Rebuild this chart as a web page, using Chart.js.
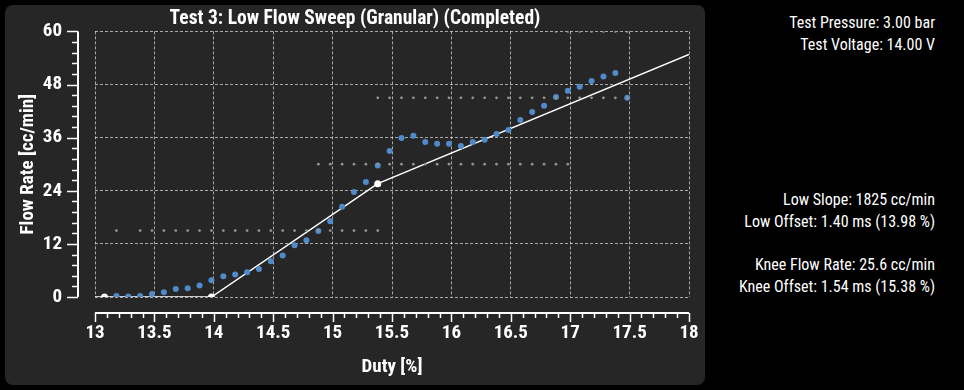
<!DOCTYPE html>
<html>
<head>
<meta charset="utf-8">
<script src="https://cdn.jsdelivr.net/npm/chart.js@4.4.1/dist/chart.umd.min.js"></script>
<style>
html,body{margin:0;padding:0;background:#000;width:964px;height:390px;overflow:hidden;}
#panel{position:absolute;left:5px;top:5px;width:700px;height:380px;background:#262626;border-radius:8px;overflow:hidden;}
#panel canvas{display:block;}
.info{position:absolute;right:29px;color:#fff;font-family:'Roboto Condensed','Liberation Sans Narrow','Arial Narrow','DejaVu Sans Condensed',Roboto,sans-serif;font-size:16px;line-height:22px;text-align:right;white-space:nowrap;}
</style>
</head>
<body>
<div id="panel"><canvas id="c" width="700" height="380"></canvas></div>
<div class="info" style="top:12px">Test Pressure: 3.00 bar<br>Test Voltage: 14.00 V</div>
<div class="info" style="top:189px">Low Slope: 1825 cc/min<br>Low Offset: 1.40 ms (13.98 %)</div>
<div class="info" style="top:254px">Knee Flow Rate: 25.6 cc/min<br>Knee Offset: 1.54 ms (15.38 %)</div>
<script>
// ---- data ----
const dutyPct = [13.18,13.28,13.38,13.48,13.58,13.68,13.78,13.88,13.98,14.08,14.18,14.28,14.38,14.48,14.58,14.68,14.78,14.88,14.98,15.08,15.18,15.28,15.38,15.48,15.58,15.68,15.78,15.88,15.98,16.08,16.18,16.28,16.38,16.48,16.58,16.68,16.78,16.88,16.98,17.08,17.18,17.28,17.38,17.48];
const flowRate = [0.2,0.1,0.2,0.7,1.1,1.8,2.0,2.6,3.8,4.7,5.1,5.6,6.3,8.1,9.4,11.7,12.8,14.9,17.1,20.4,23.7,26.0,29.7,33.0,35.9,36.4,35.0,34.6,34.6,34.1,35.0,35.5,36.8,37.7,40.0,41.8,43.2,45.2,46.6,47.5,48.8,49.8,50.6,45.0];

const band15Duty = [13.18,13.38,13.48,13.58,13.68,13.78,13.88,13.98,14.08,14.18,14.28,14.38,14.48,14.58,14.68,14.78,14.88,14.98,15.08,15.18,15.28,15.38];
const band30Duty = [14.88,14.98,15.08,15.18,15.28,15.38,15.48,15.58,15.68,15.78,15.88,15.98,16.08,16.18,16.28,16.38,16.48,16.58,16.68,16.78,16.88,16.98];
const band45Duty = [15.38,15.48,15.58,15.68,15.78,15.88,15.98,16.08,16.18,16.28,16.38,16.48,16.58,16.68,16.78,16.88,16.98,17.08,17.18,17.28,17.38,17.48];
const band60Duty = [16.88,16.98,17.08,17.18,17.28,17.38,17.48];
const bandLevels = [15, 30, 45, 60];

const fitDuty = [13.0, 13.98, 15.38, 18.0];
const fitFlow = [0, 0, 25.6, 54.8];
const markerDuty = [13.08, 13.98, 15.38];
const markerFlow = [0, 0, 25.6];

const xTicks = [13,13.5,14,14.5,15,15.5,16,16.5,17,17.5,18];
const yTicks = [0,12,24,36,48,60];

const titleText = 'Test 3: Low Flow Sweep (Granular) (Completed)';
const xTitle = 'Duty [%]';
const yTitle = 'Flow Rate [cc/min]';

// ---- chart ----
const FONT = "'Roboto Condensed','Liberation Sans Narrow','Arial Narrow','DejaVu Sans Condensed',Roboto,sans-serif";
const pts = (xs, ys) => xs.map((x, i) => ({x, y: ys[i]}));
const row = (xs, level) => xs.map(x => ({x, y: level}));

const bandStyle = {type:'scatter', pointRadius:1.4, pointHoverRadius:1.4, pointBackgroundColor:'#939393', pointBorderWidth:0, showLine:false};

const axesPlugin = {
  id: 'detachedAxes',
  afterDraw(chart) {
    const {ctx, chartArea} = chart;
    const xs = chart.scales.x, ys = chart.scales.y;
    ctx.save();
    ctx.strokeStyle = '#ffffff';
    // y axis
    const ax = chartArea.left - 17;
    ctx.lineWidth = 2;
    ctx.beginPath();
    ctx.moveTo(ax, ys.getPixelForValue(60));
    ctx.lineTo(ax, ys.getPixelForValue(0));
    ctx.stroke();
    ctx.lineWidth = 1.5;
    for (let k = 0; k <= 25; k++) {
      const v = k * 2.4;
      const py = Math.round(ys.getPixelForValue(v)) + 0.5;
      const len = (k % 5 === 0) ? 11 : 6;
      ctx.beginPath(); ctx.moveTo(ax - len, py); ctx.lineTo(ax, py); ctx.stroke();
    }
    // x axis
    const ay = chartArea.bottom + 16;
    ctx.lineWidth = 2;
    ctx.beginPath();
    ctx.moveTo(xs.getPixelForValue(13), ay);
    ctx.lineTo(xs.getPixelForValue(18), ay);
    ctx.stroke();
    ctx.lineWidth = 1.5;
    for (let k = 0; k <= 50; k++) {
      const v = 13 + k * 0.1;
      const px = Math.round(xs.getPixelForValue(v)) + 0.5;
      const len = (k % 5 === 0) ? 9 : 5;
      ctx.beginPath(); ctx.moveTo(px, ay); ctx.lineTo(px, ay + len); ctx.stroke();
    }
    ctx.restore();
  }
};

new Chart(document.getElementById('c'), {
  type: 'scatter',
  data: {
    datasets: [
      Object.assign({data: row(band15Duty, bandLevels[0])}, bandStyle),
      Object.assign({data: row(band30Duty, bandLevels[1])}, bandStyle),
      Object.assign({data: row(band45Duty, bandLevels[2])}, bandStyle),
      Object.assign({data: row(band60Duty, bandLevels[3])}, bandStyle),
      {data: pts(dutyPct, flowRate), pointRadius:3, pointHoverRadius:3, pointBackgroundColor:'#4f8bcb', pointBorderWidth:0, showLine:false},
      {data: pts(fitDuty, fitFlow), showLine:true, borderColor:'#ffffff', borderWidth:1.5, pointRadius:0, pointHoverRadius:0, fill:false},
      {data: pts(markerDuty, markerFlow), pointRadius:3.5, pointHoverRadius:3.5, pointBackgroundColor:'#ffffff', pointBorderWidth:0, showLine:false}
    ]
  },
  options: {
    responsive: false,
    animation: false,
    devicePixelRatio: 1,
    layout: {padding: {left:0, right:0, top:0, bottom:0}},
    plugins: {
      legend: {display:false},
      tooltip: {enabled:false},
      title: {display:true, text:titleText, color:'#ffffff', font:{family:FONT, size:19.5, weight:'bold'}, padding:{top:2, bottom:1}}
    },
    scales: {
      x: {
        type:'linear', min:13, max:18,
        afterBuildTicks: s => { s.ticks = xTicks.map(v => ({value:v})); },
        afterFit: s => { s.height = 88; },
        grid: {color:'rgba(255,255,255,0.6)', lineWidth:1, drawTicks:true, tickLength:25, tickColor:'rgba(0,0,0,0)'},
        border: {display:false, dash:[3,2]},
        ticks: {color:'#ffffff', padding:0, maxRotation:0, font:{family:FONT, size:19, weight:'bold'}, callback: v => String(v)},
        title: {display:true, text:xTitle, color:'#ffffff', font:{family:FONT, size:19, weight:'bold'}, padding:{top:0, bottom:6}}
      },
      y: {
        type:'linear', min:0, max:60,
        afterBuildTicks: s => { s.ticks = yTicks.map(v => ({value:v})); },
        afterFit: s => { s.width = 90; },
        grid: {color:'rgba(255,255,255,0.6)', lineWidth:1, drawTicks:true, tickLength:33, tickColor:'rgba(0,0,0,0)'},
        border: {display:false, dash:[3,2]},
        ticks: {color:'#ffffff', padding:0, font:{family:FONT, size:19, weight:'bold'}, callback: v => String(v)},
        title: {display:true, text:yTitle, color:'#ffffff', font:{family:FONT, size:19, weight:'bold'}, padding:{top:12, bottom:0}}
      },
      rightGap: {
        type:'linear', position:'right', display:true,
        afterFit: s => { s.width = 16; },
        grid: {display:false, drawTicks:false},
        border: {display:false},
        ticks: {display:false},
        title: {display:false}
      }
    }
  },
  plugins: [axesPlugin]
});
</script>
</body>
</html>
